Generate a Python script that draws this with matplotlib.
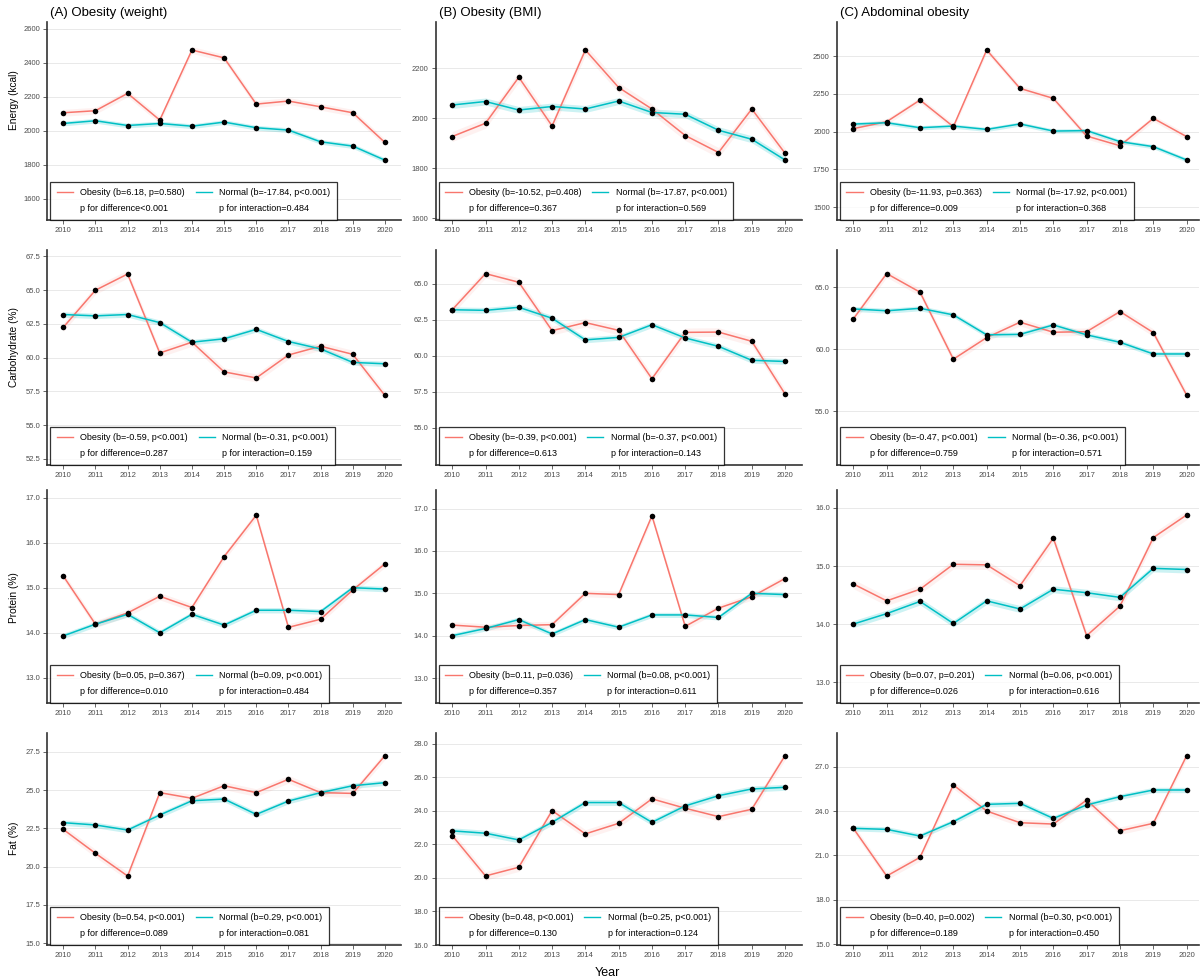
import matplotlib
matplotlib.use("Agg")
import matplotlib.pyplot as plt
from matplotlib.lines import Line2D

plt.rcParams['font.family'] = ['Liberation Sans', 'DejaVu Sans']

years = list(range(2010, 2021))
col_titles = ['(A) Obesity (weight)', '(B) Obesity (BMI)', '(C) Abdominal obesity']
row_labels = ['Energy (kcal)', 'Carbohydrate (%)', 'Protein (%)', 'Fat (%)']

# Energy (kcal)
energy_obesity = [
    [2106, 2118, 2220, 2063, 2475, 2429, 2157, 2175, 2141, 2106, 1931],
    [1927, 1980, 2164, 1969, 2273, 2123, 2037, 1931, 1863, 2037, 1860],
    [2020, 2066, 2209, 2033, 2540, 2286, 2220, 1971, 1907, 2088, 1967],
]
energy_normal = [
    [2043, 2059, 2031, 2043, 2027, 2051, 2018, 2004, 1935, 1910, 1827],
    [2053, 2067, 2033, 2047, 2037, 2069, 2023, 2016, 1952, 1916, 1833],
    [2050, 2059, 2026, 2037, 2015, 2051, 2004, 2007, 1934, 1901, 1813],
]
# Carbohydrate (%)
carb_obesity = [
    [62.25, 65.0, 66.2, 60.35, 61.15, 58.95, 58.5, 60.2, 60.85, 60.25, 57.2],
    [63.19, 65.7, 65.1, 61.74, 62.3, 61.76, 58.4, 61.62, 61.64, 61.0, 57.34],
    [62.45, 66.1, 64.6, 59.2, 60.94, 62.18, 61.37, 61.42, 63.04, 61.34, 56.3],
]
carb_normal = [
    [63.2, 63.1, 63.2, 62.6, 61.15, 61.4, 62.1, 61.2, 60.65, 59.65, 59.55],
    [63.19, 63.15, 63.36, 62.6, 61.1, 61.27, 62.15, 61.23, 60.65, 59.68, 59.6],
    [63.25, 63.1, 63.3, 62.77, 61.16, 61.2, 61.96, 61.16, 60.56, 59.62, 59.62],
]
# Protein (%)
protein_obesity = [
    [15.26, 14.19, 14.44, 14.81, 14.56, 15.69, 16.61, 14.12, 14.3, 14.95, 15.53],
    [14.25, 14.2, 14.24, 14.26, 15.0, 14.97, 16.83, 14.22, 14.65, 14.92, 15.35],
    [14.69, 14.4, 14.6, 15.03, 15.02, 14.66, 15.48, 13.8, 14.31, 15.49, 15.88],
]
protein_normal = [
    [13.93, 14.19, 14.41, 14.0, 14.41, 14.17, 14.5, 14.5, 14.47, 15.0, 14.97],
    [14.0, 14.17, 14.38, 14.04, 14.38, 14.2, 14.49, 14.49, 14.43, 15.0, 14.97],
    [14.0, 14.18, 14.39, 14.01, 14.4, 14.26, 14.6, 14.54, 14.46, 14.96, 14.94],
]
# Fat (%)
fat_obesity = [
    [22.43, 20.87, 19.39, 24.83, 24.46, 25.28, 24.83, 25.7, 24.83, 24.78, 27.24],
    [22.53, 20.12, 20.64, 24.02, 22.63, 23.26, 24.72, 24.16, 23.66, 24.1, 27.3],
    [22.83, 19.61, 20.87, 25.76, 24.0, 23.21, 23.12, 24.74, 22.67, 23.17, 27.74],
]
fat_normal = [
    [22.87, 22.72, 22.39, 23.37, 24.3, 24.41, 23.41, 24.28, 24.83, 25.28, 25.48],
    [22.81, 22.67, 22.27, 23.32, 24.5, 24.5, 23.32, 24.3, 24.91, 25.31, 25.41],
    [22.83, 22.76, 22.31, 23.28, 24.45, 24.52, 23.5, 24.41, 24.97, 25.42, 25.42],
]

# ribbon half-widths per nutrient row
band_obesity = [20, 0.3, 0.08, 0.25]
band_normal = [14, 0.2, 0.06, 0.18]

obesity_data = [energy_obesity, carb_obesity, protein_obesity, fat_obesity]
normal_data = [energy_normal, carb_normal, protein_normal, fat_normal]

yticks = [
    [[1600, 1800, 2000, 2200, 2400, 2600], [1600, 1800, 2000, 2200], [1500, 1750, 2000, 2250, 2500]],
    [[52.5, 55.0, 57.5, 60.0, 62.5, 65.0, 67.5], [55.0, 57.5, 60.0, 62.5, 65.0], [55.0, 60.0, 65.0]],
    [[13.0, 14.0, 15.0, 16.0, 17.0], [13.0, 14.0, 15.0, 16.0, 17.0], [13.0, 14.0, 15.0, 16.0]],
    [[15.0, 17.5, 20.0, 22.5, 25.0, 27.5], [16.0, 18.0, 20.0, 22.0, 24.0, 26.0, 28.0], [15.0, 18.0, 21.0, 24.0, 27.0]],
]
ylims = [
    [(1475, 2640), (1593, 2385), (1416, 2725)],
    [(52.05, 67.98), (52.41, 67.34), (50.67, 68.0)],
    [(12.44, 17.17), (12.41, 17.44), (12.64, 16.31)],
    [(14.89, 28.72), (16.01, 28.65), (14.95, 29.27)],
]

# legend statistics: (obesity b, obesity p, normal b, normal p, p diff, p interaction)
stats = [
    [('6.18', '=0.580', '-17.84', '<0.001', '<0.001', '=0.484'),
     ('-10.52', '=0.408', '-17.87', '<0.001', '=0.367', '=0.569'),
     ('-11.93', '=0.363', '-17.92', '<0.001', '=0.009', '=0.368')],
    [('-0.59', '<0.001', '-0.31', '<0.001', '=0.287', '=0.159'),
     ('-0.39', '<0.001', '-0.37', '<0.001', '=0.613', '=0.143'),
     ('-0.47', '<0.001', '-0.36', '<0.001', '=0.759', '=0.571')],
    [('0.05', '=0.367', '0.09', '<0.001', '=0.010', '=0.484'),
     ('0.11', '=0.036', '0.08', '<0.001', '=0.357', '=0.611'),
     ('0.07', '=0.201', '0.06', '<0.001', '=0.026', '=0.616')],
    [('0.54', '<0.001', '0.29', '<0.001', '=0.089', '=0.081'),
     ('0.48', '<0.001', '0.25', '<0.001', '=0.130', '=0.124'),
     ('0.40', '=0.002', '0.30', '<0.001', '=0.189', '=0.450')],
]

RED = '#F8766D'
TEAL = '#00BFC4'
W, H = 1201, 980

col_px = [(47.2, 401.0), (435.6, 801.7), (836.7, 1199.0)]
col_xlim = [(2009.5, 2020.5), (2009.5, 2020.5), (2009.5, 2020.37)]
row_px = [(22, 220), (250, 465), (490, 703), (733, 945)]
label_y = [100, 347, 598, 838]

fig = plt.figure(figsize=(W / 100, H / 100), dpi=100)

for r in range(4):
    for c in range(3):
        x0, x1 = col_px[c]
        t, b = row_px[r]
        ax = fig.add_axes([x0 / W, 1 - b / H, (x1 - x0) / W, (b - t) / H])
        ob = obesity_data[r][c]
        no = normal_data[r][c]

        ax.fill_between(years, [v - band_normal[r] for v in no], [v + band_normal[r] for v in no],
                        color=TEAL, alpha=0.2, lw=0)
        ax.fill_between(years, [v - band_obesity[r] for v in ob], [v + band_obesity[r] for v in ob],
                        color=RED, alpha=0.1, lw=0)
        ax.plot(years, ob, color=RED, lw=1.1, zorder=3)
        ax.plot(years, no, color=TEAL, lw=1.1, zorder=3)
        ax.scatter(years, ob, s=16, color='black', zorder=4, lw=0)
        ax.scatter(years, no, s=16, color='black', zorder=4, lw=0)

        ax.set_xlim(*col_xlim[c])
        ax.set_ylim(*ylims[r][c])
        ax.set_xticks(years)
        ax.set_xticklabels([str(y) for y in years])
        ax.set_yticks(yticks[r][c])
        ax.set_yticklabels(['%g' % v if r == 0 else '%.1f' % v for v in yticks[r][c]])
        ax.tick_params(labelsize=5.5, colors='#4D4D4D', length=3, width=0.6, pad=2)
        ax.grid(axis='y', color='#E5E5E5', lw=0.6)
        ax.set_axisbelow(True)
        for s in ['top', 'right']:
            ax.spines[s].set_visible(False)
        for s in ['left', 'bottom']:
            ax.spines[s].set_color('#333333')
            ax.spines[s].set_linewidth(1.2)

        st = stats[r][c]
        handles = [
            Line2D([], [], color=RED, lw=1.0),
            Line2D([], [], color='none'),
            Line2D([], [], color=TEAL, lw=1.0),
            Line2D([], [], color='none'),
        ]
        labels = [
            'Obesity (b=%s, p%s)' % (st[0], st[1]),
            'p for difference%s' % st[4],
            'Normal (b=%s, p%s)' % (st[2], st[3]),
            'p for interaction%s' % st[5],
        ]
        leg = ax.legend(handles, labels, ncol=2, loc='lower left', bbox_to_anchor=(0.008, 0.0),
                        borderaxespad=0, fontsize=6.5, frameon=True, fancybox=False,
                        handlelength=1.8, handletextpad=0.8, columnspacing=1.2,
                        borderpad=0.75, labelspacing=0.75)
        leg.get_frame().set_edgecolor('black')
        leg.get_frame().set_linewidth(0.9)

        if r == 0:
            fig.text((x0 + 3) / W, 1 - 13 / H, col_titles[c], fontsize=9.5, va='center', ha='left')
        if c == 0:
            fig.text(14 / W, 1 - label_y[r] / H, row_labels[r], rotation=90,
                     fontsize=7.3, va='center', ha='center')

fig.text(607 / W, 1 - 973 / H, 'Year', fontsize=9, ha='center', va='center')

fig.savefig('out.png', dpi=100)
